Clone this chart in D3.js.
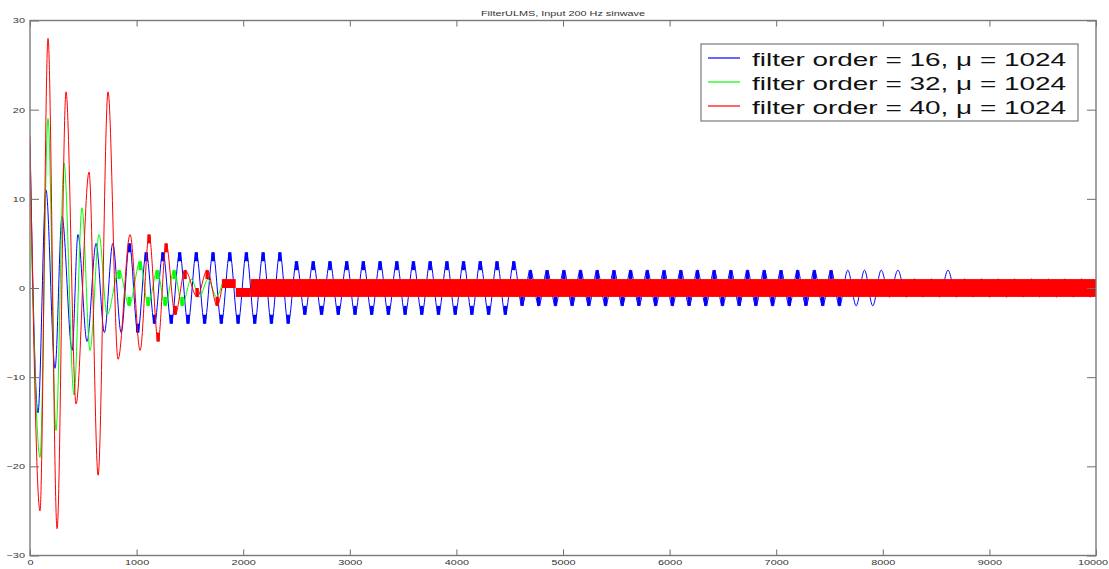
<!DOCTYPE html>
<html>
<head>
<meta charset="utf-8">
<script src="https://cdn.jsdelivr.net/npm/d3@7"></script>
<style>
  body { margin: 0; background: #fff; }
  svg { display: block; font-family: "Liberation Sans", Arial, sans-serif; }
</style>
</head>
<body>
<div id="chart"></div>
<script>
const chartTitle = 'FilterULMS, Input 200 Hz sinwave';
const seriesNames = ['filter order = 16, \u03bc = 1024', 'filter order = 32, \u03bc = 1024', 'filter order = 40, \u03bc = 1024'];
const colors = ['#0000ff', '#00ff00', '#ff0000'];
const xTicks = [0, 1000, 2000, 3000, 4000, 5000, 6000, 7000, 8000, 9000, 10000];
const yTicks = [-30, -20, -10, 0, 10, 20, 30];

// turning points of each output, [sample, value]
const blueTurns = [[0,16],[75,-14],[150,11],[235,-9],[300,8],[395,-7],[450,6],[535,-6],[620,5],[698,-5],
  [777,5],[855,-5],[933,5],[1011,-5],[1090,4],[1168,-4],[1247,4],[1325,-4],[1404,4],[1482,-4],
  [1560,4],[1638,-4],[1717,4],[1795,-4],[1874,4],[1952,-4],[2030,4],[2108,-4],[2187,4],[2265,-4],
  [2344,4],[2422,-4],[2500,3],[2578,-3],[2657,3],[2735,-3],[2814,3],[2892,-3],[2971,3],[3049,-3],
  [3127,3],[3205,-3],[3284,3],[3362,-3],[3441,3],[3519,-3],[3597,3],[3675,-3],[3754,3],[3832,-3],
  [3911,3],[3989,-3],[4067,3],[4145,-3],[4224,3],[4302,-3],[4381,3],[4459,-3],[4538,3],[4616,-2],
  [4694,2],[4772,-2],[4851,2],[4929,-2],[5008,2],[5086,-2],[5164,2],[5242,-2],[5321,2],[5399,-2],
  [5478,2],[5556,-2],[5634,2],[5712,-2],[5791,2],[5869,-2],[5948,2],[6026,-2],[6105,2],[6183,-2],
  [6261,2],[6339,-2],[6418,2],[6496,-2],[6575,2],[6653,-2],[6731,2],[6809,-2],[6888,2],[6966,-2],
  [7045,2],[7123,-2],[7201,2],[7279,-2],[7358,2],[7436,-2],[7515,2],[7593,-2],[7672,2],[7750,-2],
  [7828,2],[7906,-2],[7985,2],[8063,-1],[8142,2],[8220,-1],[8298,1],[8376,-1],[8455,1],[8533,-1],
  [8612,2],[8690,-1],[8768,1],[8846,-1],[8925,1],[9003,-1],[9082,1],[9160,-1],[9238,1],[9316,-1],
  [9395,1],[9473,-1],[9552,1],[9630,-1],[9708,1],[9786,-1],[9865,1],[9943,-1],[10000,0]];
const greenTurns = [[0,12],[94,-19],[169,19],[244,-16],[319,14],[413,-12],[488,9],[563,-7],[648,6],[723,-3],
  [836,2],[930,-2],[1033,3],[1108,-2],[1193,2],[1268,-2],[1352,2],[1427,-2],[1512,1],[1590,-1],
  [1670,1],[1750,-1],[1830,1],[1910,0]];
const redTurns = [[0,17],[94,-25],[169,28],[254,-27],[338,22],[432,-13],[554,13],[639,-21],[732,22],[826,-8],
  [939,6],[1033,-7],[1117,6],[1202,-6],[1277,5],[1362,-3],[1455,2],[1568,-1],[1662,2],[1756,-2],[1800,0]];

// sample ranges where an output toggles between two levels at its crests
const blueDither = [900, 7620];
const greenDither = [800, 1450];
const redDither = [1100, 1790];

// red output toggling fast between two levels: [from, to, low, high]
const redBand = [[1800, 1930, 0, 1], [1930, 2070, -1, 0], [2070, 10000, -1, 1]];

class LmsChart {
  constructor(el) {
    this.width = 1109;
    this.height = 569;
    this.plot = { left: 30, right: 1096, top: 20.5, bottom: 555.5 };
    this.el = el;
    this.init();
  }

  init() {
    const p = this.plot;

    //Set up d3
    this.svg = d3.select(this.el).append('svg')
      .attr('width', this.width)
      .attr('height', this.height);

    this.x = d3.scaleLinear().domain([0, 10000]).range([p.left, p.right]);
    this.y = d3.scaleLinear().domain([-30, 30]).range([p.bottom, p.top]);

    this.svg.append('clipPath')
      .attr('id', 'plotclip')
      .append('rect')
      .attr('x', p.left).attr('y', p.top)
      .attr('width', p.right - p.left).attr('height', p.bottom - p.top);

    this.traces = this.svg.append('g').attr('clip-path', 'url(#plotclip)');
  }

  drawTrace(turns, color, dither) {
    const line = d3.line()
      .x(d => this.x(d[0]))
      .y(d => this.y(d[1]))
      .curve(d3.curveMonotoneX);

    this.traces.append('path')
      .datum(turns)
      .attr('fill', 'none')
      .attr('stroke', color)
      .attr('stroke-width', 1)
      .attr('d', line);

    const held = turns.filter(d => d[0] >= dither[0] && d[0] <= dither[1] && d[1] !== 0);
    this.traces.append('g').selectAll('rect')
      .data(held)
      .enter()
      .append('rect')
      .attr('x', d => this.x(d[0] - 16))
      .attr('width', d => this.x(d[0] + 16) - this.x(d[0] - 16))
      .attr('y', d => this.y(Math.max(d[1], d[1] - Math.sign(d[1]))))
      .attr('height', d => Math.abs(this.y(d[1]) - this.y(d[1] - Math.sign(d[1]))))
      .style('fill', color);
  }

  drawBand(band, color) {
    this.traces.append('g').selectAll('rect')
      .data(band)
      .enter()
      .append('rect')
      .attr('x', d => this.x(d[0]))
      .attr('width', d => this.x(d[1]) - this.x(d[0]))
      .attr('y', d => this.y(d[3]))
      .attr('height', d => this.y(d[2]) - this.y(d[3]))
      .style('fill', color);
  }

  drawAxes() {
    const p = this.plot;
    const grey = '#6e6e6e';
    const styleAxis = (g) => {
      g.select('.domain').remove();
      g.attr('font-size', 7.5).attr('font-family', null);
      g.selectAll('line').attr('stroke', grey);
      g.selectAll('text').attr('fill', '#333').attr('transform', 'scale(1.45,1)');
    };

    this.svg.append('g')
      .attr('transform', `translate(0,${p.bottom})`)
      .call(d3.axisBottom(this.x).tickValues(xTicks).tickSizeInner(-6).tickSizeOuter(0)
        .tickPadding(4).tickFormat(d3.format('d')))
      .call(styleAxis)
      // keep the last label inside the window
      .call(g => g.selectAll('text').filter(d => d === 10000).attr('text-anchor', 'end').attr('x', 8));
    this.svg.append('g')
      .attr('transform', `translate(0,${p.top})`)
      .call(d3.axisTop(this.x).tickValues(xTicks).tickSizeInner(-6).tickSizeOuter(0).tickFormat(''))
      .call(styleAxis);
    this.svg.append('g')
      .attr('transform', `translate(${p.left},0)`)
      .call(d3.axisLeft(this.y).tickValues(yTicks).tickSizeInner(-9).tickSizeOuter(0)
        .tickPadding(3.5).tickFormat(d3.format('d')))
      .call(styleAxis);
    this.svg.append('g')
      .attr('transform', `translate(${p.right},0)`)
      .call(d3.axisRight(this.y).tickValues(yTicks).tickSizeInner(-9).tickSizeOuter(0).tickFormat(''))
      .call(styleAxis);

    this.svg.append('rect')
      .attr('x', p.left).attr('y', p.top)
      .attr('width', p.right - p.left).attr('height', p.bottom - p.top)
      .attr('fill', 'none')
      .attr('stroke', '#7a7a7a')
      .attr('stroke-width', 1.4);

    this.svg.append('text')
      .attr('transform', `translate(${(p.left + p.right) / 2},16) scale(1.45,1)`)
      .attr('text-anchor', 'middle')
      .attr('font-size', 7.5)
      .attr('fill', '#333')
      .text(chartTitle);
  }

  drawLegend() {
    const box = { x: 701, y: 44, w: 377, h: 77 };
    const legend = this.svg.append('g');

    legend.append('rect')
      .attr('x', box.x).attr('y', box.y)
      .attr('width', box.w).attr('height', box.h)
      .attr('fill', '#fff')
      .attr('stroke', '#7a7a7a')
      .attr('stroke-width', 1.2);

    const rows = legend.selectAll('g.row')
      .data(seriesNames)
      .enter()
      .append('g')
      .attr('class', 'row')
      .attr('transform', (d, i) => `translate(${box.x},${box.y + 14 + i * 24})`);

    rows.append('line')
      .attr('x1', 7).attr('x2', 39)
      .attr('stroke', (d, i) => colors[i])
      .attr('stroke-width', 1.2);

    rows.append('text')
      .attr('transform', 'translate(51,8) scale(1.47,1)')
      .attr('font-size', 19)
      .attr('fill', '#111')
      .text(d => d);
  }
}

const chart = new LmsChart(document.getElementById('chart'));
chart.drawTrace(blueTurns, colors[0], blueDither);
chart.drawTrace(greenTurns, colors[1], greenDither);
chart.drawTrace(redTurns, colors[2], redDither);
chart.drawBand(redBand, colors[2]);
chart.drawAxes();
chart.drawLegend();
</script>
</body>
</html>
